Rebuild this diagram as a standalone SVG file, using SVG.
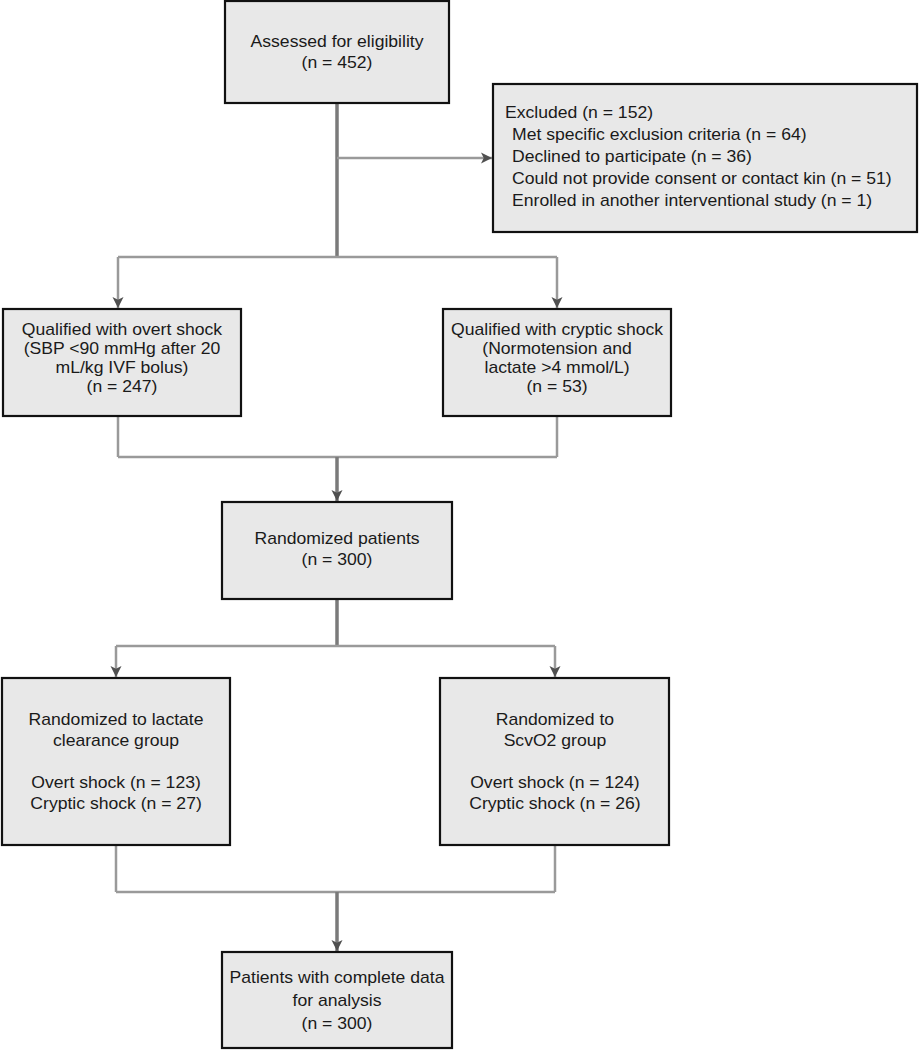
<svg xmlns="http://www.w3.org/2000/svg" width="920" height="1050" viewBox="0 0 920 1050">
<style>
.box{fill:#e8e8e8;stroke:#111;stroke-width:2.2}
.t{font-family:"Liberation Sans",Arial,sans-serif;font-size:16px;fill:#1a1a1a}
.c{text-anchor:middle}
.stem{stroke:#7a7a7a;stroke-width:3.5;fill:none}
.br{stroke:#9a9a9a;stroke-width:2.5;fill:none}
</style>
<defs>
<marker id="ah" viewBox="0 0 12 12" refX="12" refY="6" markerWidth="11" markerHeight="12" markerUnits="userSpaceOnUse" orient="auto">
<path d="M0,0 L12,6 L0,12 L3,6 z" fill="#505050"/>
</marker>
</defs>
<rect width="920" height="1050" fill="#fff"/>
<g id="connectors">
<line class="stem" x1="337" y1="104" x2="337" y2="258"/>
<line class="br" x1="337" y1="158" x2="492" y2="158" marker-end="url(#ah)"/>
<line class="br" x1="118" y1="257" x2="557" y2="257"/>
<line class="br" x1="118" y1="257" x2="118" y2="308" marker-end="url(#ah)"/>
<line class="br" x1="557" y1="257" x2="557" y2="308" marker-end="url(#ah)"/>
<line class="br" x1="118" y1="417" x2="118" y2="457"/>
<line class="br" x1="557" y1="417" x2="557" y2="457"/>
<line class="br" x1="118" y1="457" x2="557" y2="457"/>
<line class="stem" x1="337" y1="457" x2="337" y2="501" marker-end="url(#ah)"/>
<line class="stem" x1="337" y1="600" x2="337" y2="647"/>
<line class="br" x1="116" y1="646" x2="555" y2="646"/>
<line class="br" x1="116" y1="646" x2="116" y2="677" marker-end="url(#ah)"/>
<line class="br" x1="555" y1="646" x2="555" y2="677" marker-end="url(#ah)"/>
<line class="br" x1="116" y1="846" x2="116" y2="892"/>
<line class="br" x1="555" y1="846" x2="555" y2="892"/>
<line class="br" x1="116" y1="892" x2="555" y2="892"/>
<line class="stem" x1="337" y1="892" x2="337" y2="951" marker-end="url(#ah)"/>
</g>
<g id="assessed">
<rect class="box" x="225" y="1" width="224" height="102"/>
<g transform="scale(1.1 1)"><text class="t c" x="306.4" y="47">Assessed for eligibility</text><text class="t c" x="306.4" y="68">(n = 452)</text></g>
</g>
<g id="excluded">
<rect class="box" x="493" y="84" width="424" height="148"/>
<g transform="scale(1.1 1)">
<text class="t" x="459.1" y="118">Excluded (n = 152)</text>
<text class="t" x="465.5" y="140">Met specific exclusion criteria (n = 64)</text>
<text class="t" x="465.5" y="162">Declined to participate (n = 36)</text>
<text class="t" x="465.5" y="184">Could not provide consent or contact kin (n = 51)</text>
<text class="t" x="465.5" y="206">Enrolled in another interventional study (n = 1)</text>
</g>
</g>
<g id="overt">
<rect class="box" x="3" y="309" width="238" height="107"/>
<g transform="scale(1.1 1)">
<text class="t c" x="110.9" y="335">Qualified with overt shock</text>
<text class="t c" x="110.9" y="354">(SBP &lt;90 mmHg after 20</text>
<text class="t c" x="110.9" y="373">mL/kg IVF bolus)</text>
<text class="t c" x="110.9" y="392">(n = 247)</text>
</g>
</g>
<g id="cryptic">
<rect class="box" x="443" y="309" width="228" height="107"/>
<g transform="scale(1.1 1)">
<text class="t c" x="506.4" y="335">Qualified with cryptic shock</text>
<text class="t c" x="506.4" y="354">(Normotension and</text>
<text class="t c" x="506.4" y="373">lactate &gt;4 mmol/L)</text>
<text class="t c" x="506.4" y="392">(n = 53)</text>
</g>
</g>
<g id="randomized">
<rect class="box" x="222" y="502" width="230" height="97"/>
<g transform="scale(1.1 1)">
<text class="t c" x="306.4" y="544">Randomized patients</text>
<text class="t c" x="306.4" y="565">(n = 300)</text>
</g>
</g>
<g id="lactate">
<rect class="box" x="2" y="678" width="228" height="167"/>
<g transform="scale(1.1 1)">
<text class="t c" x="105.5" y="725">Randomized to lactate</text>
<text class="t c" x="105.5" y="746">clearance group</text>
<text class="t c" x="105.5" y="788">Overt shock (n = 123)</text>
<text class="t c" x="105.5" y="809">Cryptic shock (n = 27)</text>
</g>
</g>
<g id="scvo2">
<rect class="box" x="440" y="678" width="229" height="167"/>
<g transform="scale(1.1 1)">
<text class="t c" x="504.5" y="725">Randomized to</text>
<text class="t c" x="504.5" y="746">ScvO2 group</text>
<text class="t c" x="504.5" y="788">Overt shock (n = 124)</text>
<text class="t c" x="504.5" y="809">Cryptic shock (n = 26)</text>
</g>
</g>
<g id="complete">
<rect class="box" x="222" y="952" width="230" height="96"/>
<g transform="scale(1.1 1)">
<text class="t c" x="306.4" y="983">Patients with complete data</text>
<text class="t c" x="306.4" y="1006">for analysis</text>
<text class="t c" x="306.4" y="1029">(n = 300)</text>
</g>
</g>
</svg>
